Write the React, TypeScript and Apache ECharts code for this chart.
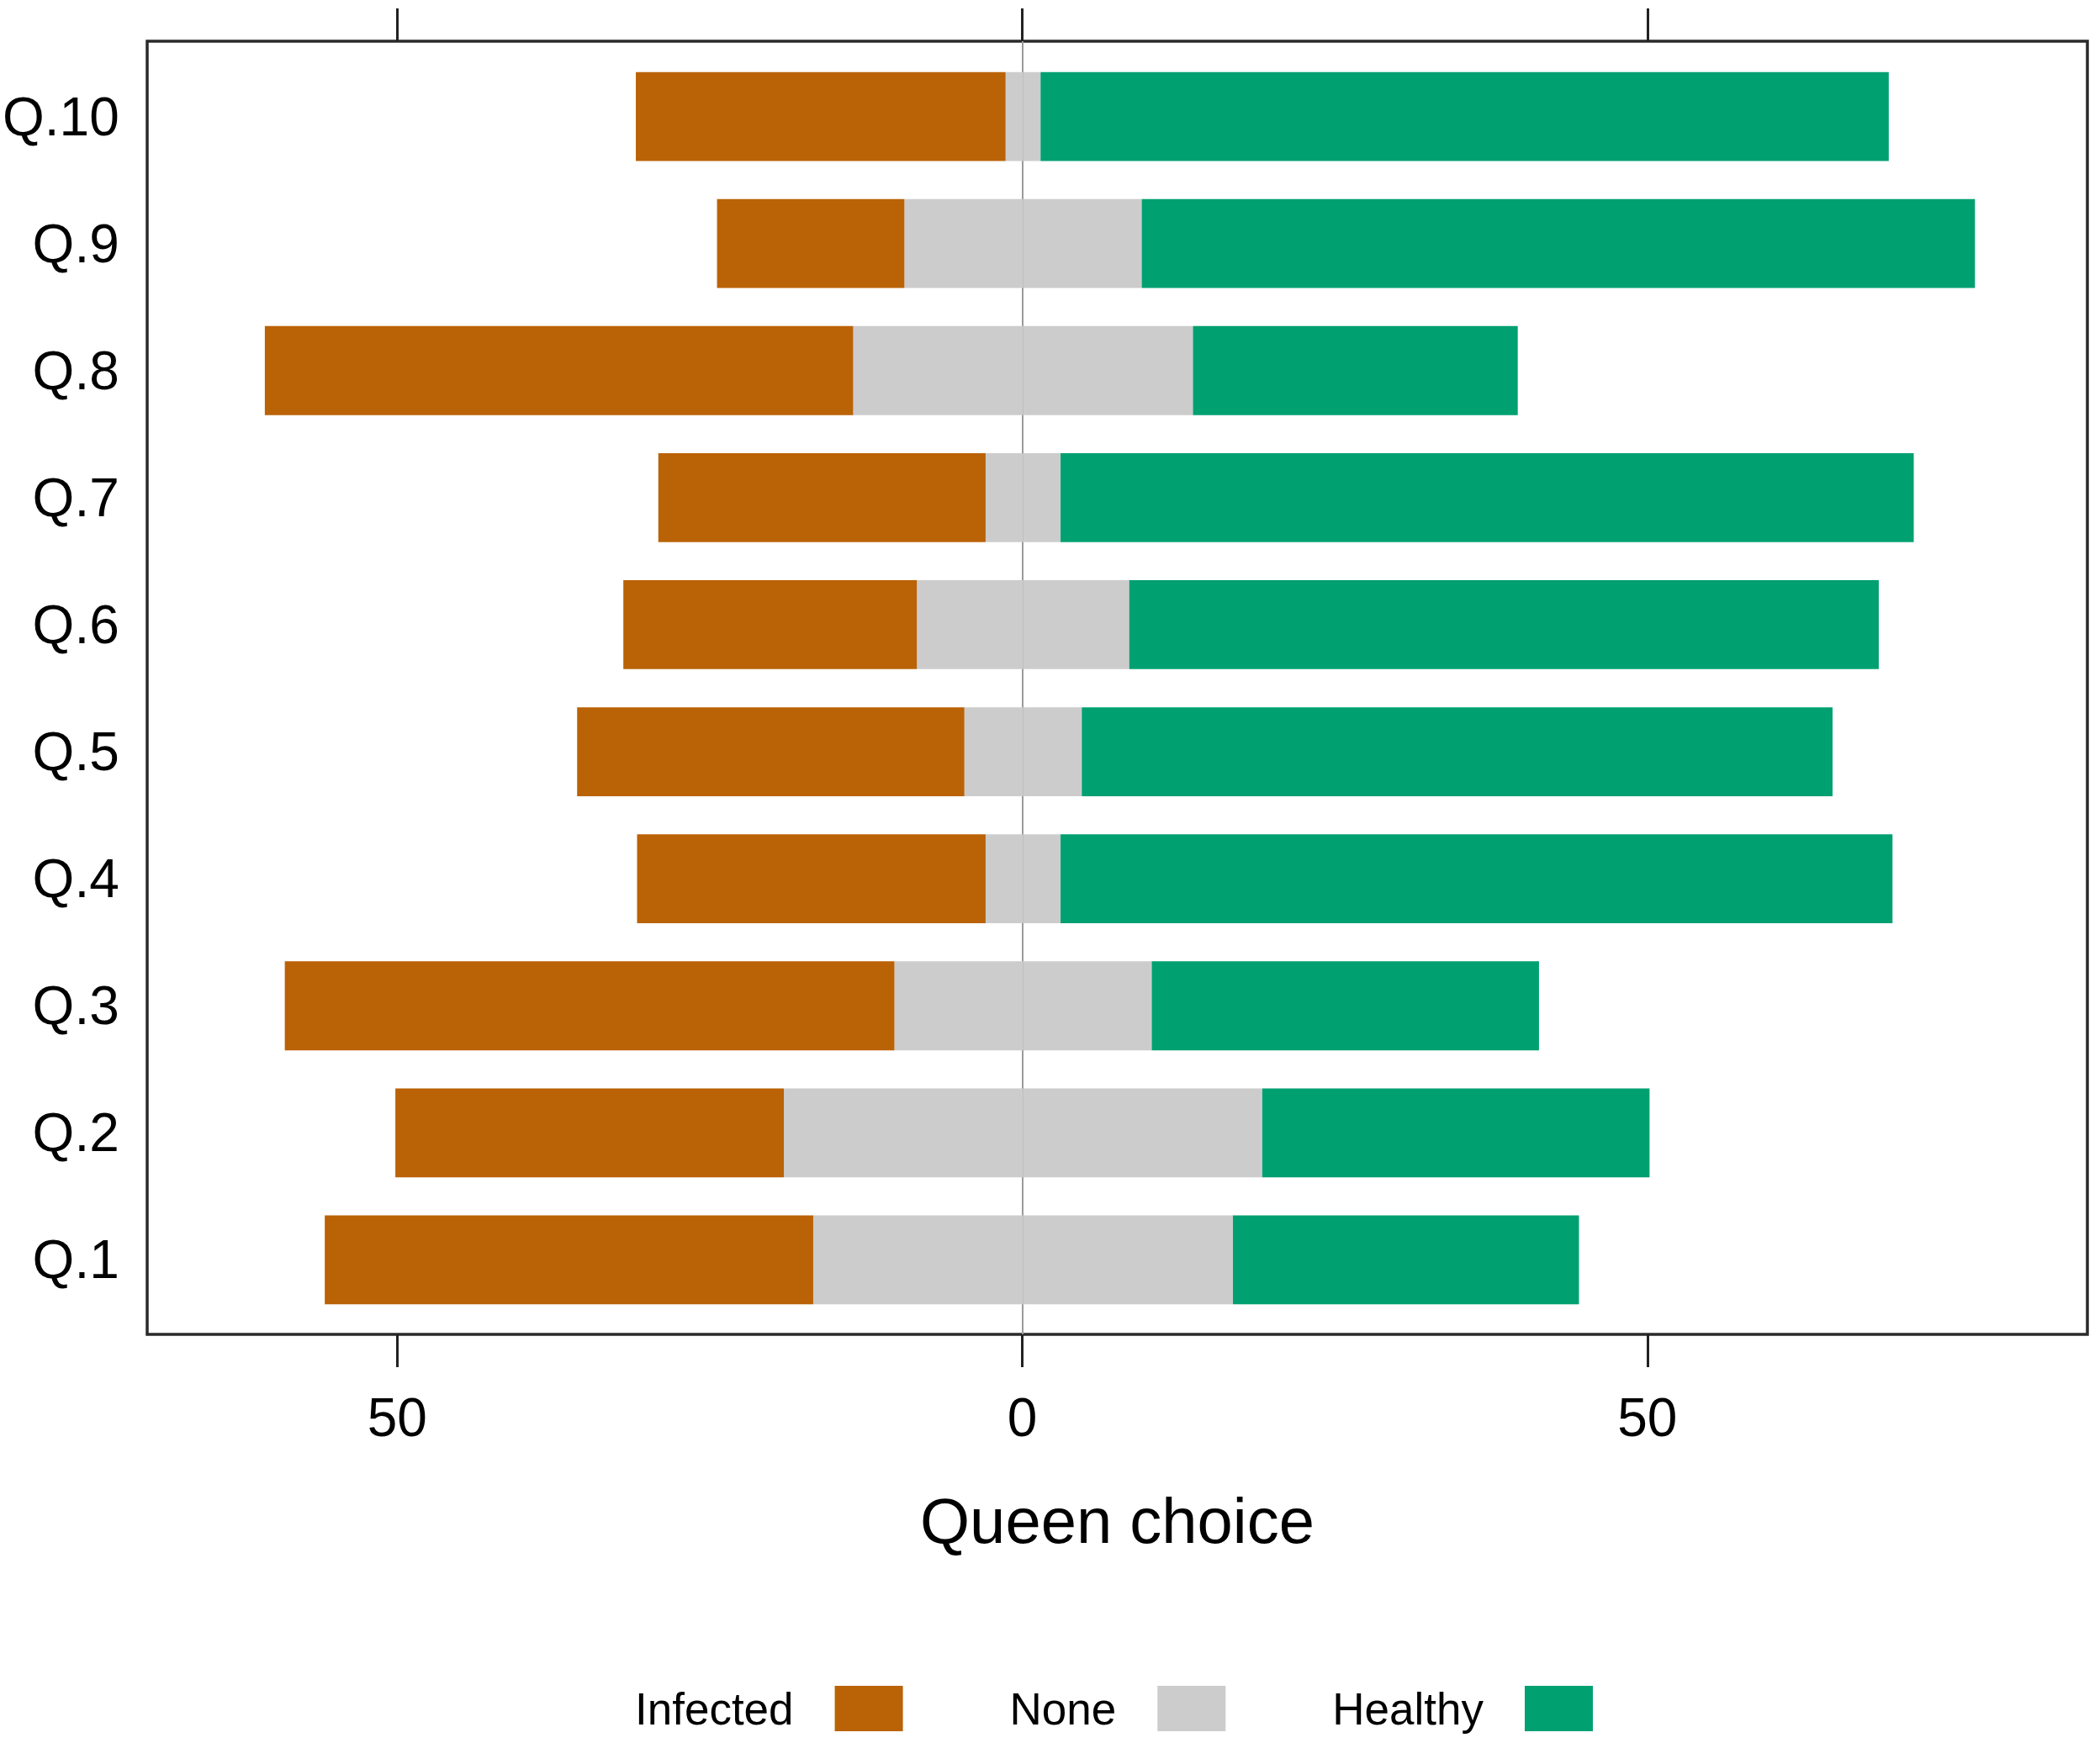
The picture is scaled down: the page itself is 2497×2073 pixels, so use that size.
import React, { useEffect, useRef } from "react";
import * as echarts from "echarts";

const categories = ["Q.1", "Q.2", "Q.3", "Q.4", "Q.5", "Q.6", "Q.7", "Q.8", "Q.9", "Q.10"];
const infected = [39.1, 31.1, 48.8, 27.9, 31.0, 23.5, 26.2, 47.1, 15.0, 29.6];
const none = [33.6, 38.3, 20.6, 6.0, 9.4, 17.0, 6.0, 27.2, 19.0, 2.8];
const healthy = [27.7, 31.0, 31.0, 66.6, 60.1, 60.0, 68.3, 26.0, 66.7, 67.9];
const tickValues = [-50, 0, 50];
const legendNames = ["Infected", "None", "Healthy"];

const FONT = "'Liberation Sans', Arial, Helvetica, sans-serif";
const X_MIN = -70.0;
const X_MAX = 85.2;
const C_INF = "#BA6206";
const C_NONE = "#CCCCCC";
const C_HEALTHY = "#00A071";

export default function App() {
  const ref = useRef<HTMLDivElement>(null);
  useEffect(() => {
    if (!ref.current) return;
    const chart = echarts.init(ref.current, undefined, { renderer: "svg" });
    const barCommon = {
      type: "bar",
      stack: "total",
      xAxisIndex: 2,
      yAxisIndex: 1,
      barWidth: "70%",
      z: 3,
      silent: true,
    };
    chart.setOption({
      animation: false,
      backgroundColor: "#ffffff",
      textStyle: { fontFamily: FONT },
      grid: [
        {
          left: 175,
          right: 15,
          top: 49,
          bottom: 486,
          show: true,
          borderColor: "#2a2a2a",
          borderWidth: 3.5,
          backgroundColor: "transparent",
        },
        { left: 175, right: 15, top: 63, bottom: 499 },
      ],
      legend: {
        data: legendNames,
        left: 755,
        top: 2005,
        orient: "horizontal",
        align: "right",
        itemWidth: 81,
        itemHeight: 54,
        itemGap: 127,
        padding: 0,
        icon: "rect",
        selectedMode: false,
        itemStyle: { borderWidth: 0 },
        textStyle: { fontSize: 53, color: "#000", fontFamily: FONT, padding: [0, 44, 0, 0] },
      },
      xAxis: [
        {
          gridIndex: 0,
          type: "value",
          position: "bottom",
          min: X_MIN,
          max: X_MAX,
          axisLine: { show: false },
          splitLine: { show: false },
          axisTick: {
            show: true,
            customValues: tickValues,
            inside: false,
            length: 39,
            lineStyle: { color: "#222", width: 3 },
          },
          axisLabel: {
            show: true,
            customValues: tickValues,
            formatter: (v: number) => String(Math.abs(v)),
            fontSize: 64,
            margin: 67,
            color: "#000",
            fontFamily: FONT,
          },
          name: "Queen choice",
          nameLocation: "middle",
          nameGap: 183,
          nameTextStyle: { fontSize: 76, color: "#000", fontFamily: FONT },
        },
        {
          gridIndex: 0,
          type: "value",
          position: "top",
          min: X_MIN,
          max: X_MAX,
          axisLine: { show: false },
          splitLine: { show: false },
          axisTick: {
            show: true,
            customValues: tickValues,
            inside: false,
            length: 39,
            lineStyle: { color: "#222", width: 3 },
          },
          axisLabel: { show: false },
        },
        {
          gridIndex: 1,
          type: "value",
          min: X_MIN,
          max: X_MAX,
          show: false,
          splitLine: { show: false },
        },
      ],
      yAxis: [
        { gridIndex: 0, type: "value", min: 0, max: 1, show: false, splitLine: { show: false } },
        {
          gridIndex: 1,
          type: "category",
          data: categories,
          axisLine: { show: false },
          axisTick: { show: false },
          splitLine: { show: false },
          axisLabel: { fontSize: 64, margin: 35, color: "#000", fontFamily: FONT },
        },
      ],
      series: [
        {
          type: "line",
          xAxisIndex: 0,
          yAxisIndex: 0,
          data: [[0, 0.5]],
          showSymbol: false,
          symbol: "none",
          lineStyle: { opacity: 0 },
          silent: true,
          z: 1,
          markLine: {
            silent: true,
            symbol: ["none", "none"],
            label: { show: false },
            lineStyle: { color: "#9a9a9a", width: 2, type: "solid" },
            data: [{ xAxis: 0 }],
            z: 1,
          },
        },
        {
          ...barCommon,
          name: "None",
          itemStyle: { color: C_NONE },
          data: none.map((v) => -v / 2),
        },
        {
          ...barCommon,
          name: "None",
          itemStyle: { color: C_NONE },
          data: none.map((v) => v / 2),
        },
        {
          ...barCommon,
          name: "Infected",
          itemStyle: { color: C_INF },
          data: infected.map((v) => -v),
        },
        {
          ...barCommon,
          name: "Healthy",
          itemStyle: { color: C_HEALTHY },
          data: healthy,
        },
      ],
    });
    return () => chart.dispose();
  }, []);
  return (
    <div
      ref={ref}
      style={{ position: "absolute", left: 0, top: 0, width: 2497, height: 2073 }}
    />
  );
}
